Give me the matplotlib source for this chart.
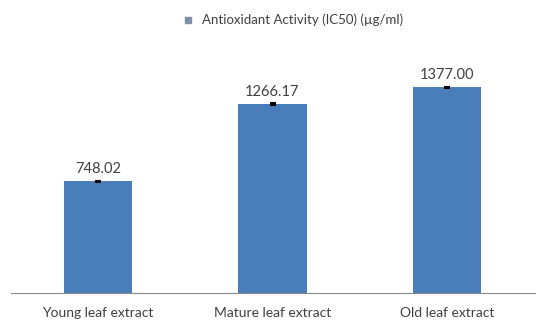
import matplotlib.pyplot as plt
from matplotlib.lines import Line2D

plt.rcParams['font.family'] = ['Lato', 'DejaVu Sans']

categories = ['Young leaf extract', 'Mature leaf extract', 'Old leaf extract']
ic50 = [748.02, 1266.17, 1377.00]
errors = [5, 5, 4]
series_name = 'Antioxidant Activity (IC50) (\u00b5g/ml)'

bar_color = '#4A7EBB'
text_color = '#404040'

fig = plt.figure(figsize=(5.45, 3.27), dpi=100)
ax = fig.add_axes([10.5 / 545, 34 / 327, 524 / 545, 239 / 327])

x = range(len(categories))
ax.bar(x, ic50, width=0.39, color=bar_color, yerr=errors,
       error_kw=dict(ecolor='black', elinewidth=1, capsize=2.5, capthick=1.5))

for xi, v in zip(x, ic50):
    ax.text(xi, v + 35, f'{v:.2f}', ha='center', va='bottom',
            fontsize=10.5, color=text_color)

ax.set_xlim(-0.5, len(categories) - 0.5)
ax.set_ylim(0, 1600)
ax.set_xticks(list(x))
ax.set_xticklabels(categories, fontsize=10, color=text_color)
ax.tick_params(axis='x', length=0, pad=10)
ax.set_yticks([])
for side in ['top', 'right', 'left']:
    ax.spines[side].set_visible(False)
ax.spines['bottom'].set_color('#888888')
ax.spines['bottom'].set_linewidth(0.8)

handle = Line2D([], [], marker='s', linestyle='', color='#7F8FA6', markersize=5)
fig.legend([handle], [series_name], loc='center', bbox_to_anchor=(0.53, 1 - 20 / 327),
           frameon=False, fontsize=9.5, handletextpad=0.1, labelcolor=text_color)

fig.savefig('out.png', dpi=100)
